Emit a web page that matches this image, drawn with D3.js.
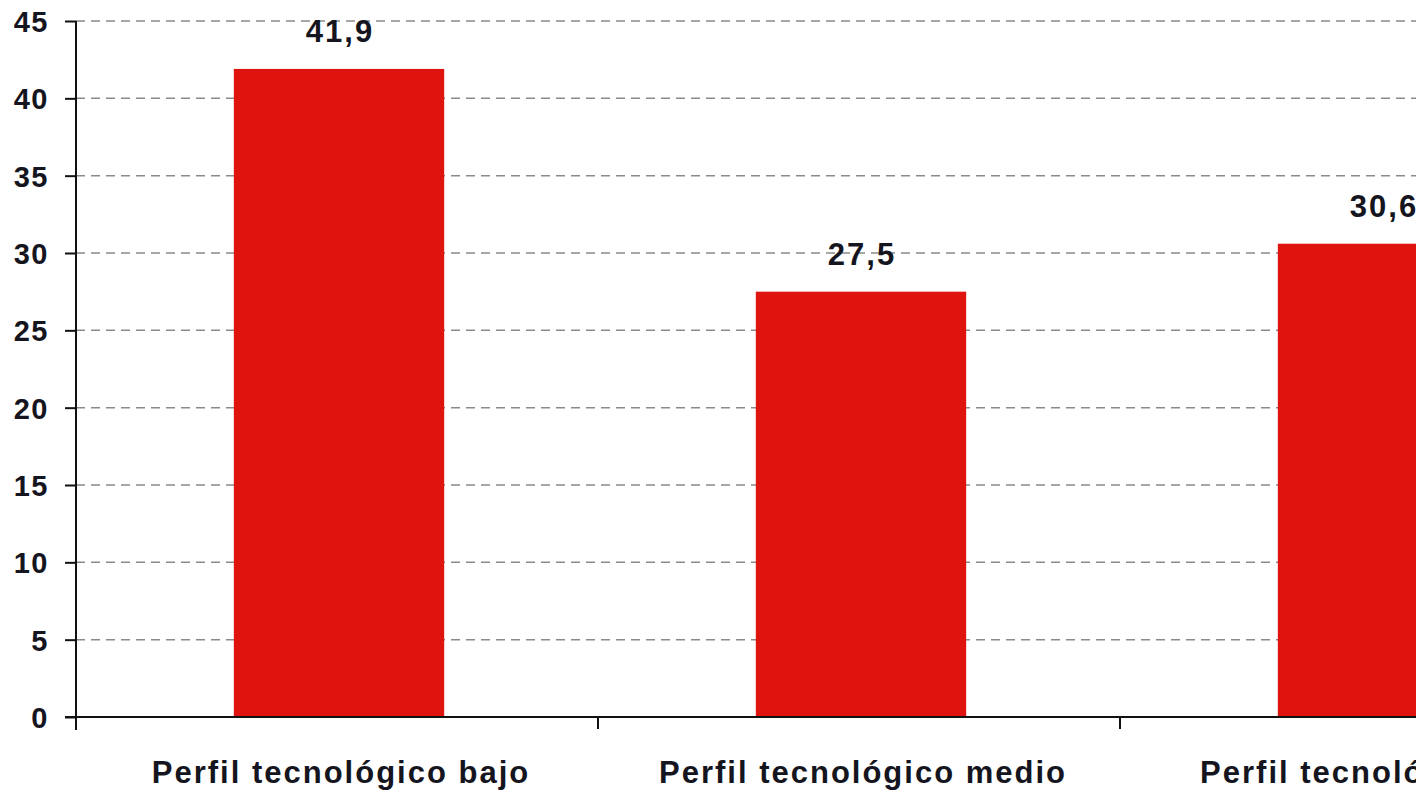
<!DOCTYPE html>
<html>
<head>
<meta charset="utf-8">
<script src="https://cdn.jsdelivr.net/npm/d3@7"></script>
<style>
  body { margin: 0; background: #fff; }
  svg { display: block; overflow: hidden; }
  text { font-family: "Liberation Sans", Arial, sans-serif; font-weight: bold; fill: #151520; }
</style>
</head>
<body>
<div id="chart"></div>
<script>
// chart values
var categories = ["Perfil tecnológico bajo", "Perfil tecnológico medio", "Perfil tecnológico alto"];
var values = [41.9, 27.5, 30.6];
var yTicks = [0, 5, 10, 15, 20, 25, 30, 35, 40, 45];

var W = 1416, H = 798;
var margin = {left: 76, top: 21, bottom: 81};
var step = 522;

var svg = d3.select("#chart").append("svg")
    .attr("width", W)
    .attr("height", H);

var x = d3.scaleBand()
    .domain(categories)
    .range([margin.left, margin.left + step * categories.length]);

var y = d3.scaleLinear()
    .domain([0, 45])
    .range([H - margin.bottom, margin.top]);

// dashed grid lines
svg.append("g")
    .selectAll("line")
    .data(yTicks.filter(function(d) { return d > 0; }))
    .enter()
    .append("line")
    .attr("x1", margin.left)
    .attr("x2", W + 10)
    .attr("y1", function(d) { return y(d); })
    .attr("y2", function(d) { return y(d); })
    .attr("stroke", "#8a8a8a")
    .attr("stroke-width", 1.5)
    .attr("stroke-dasharray", "9,6");

// bars
var barW = x.bandwidth() * 0.403;
svg.append("g")
    .selectAll("rect")
    .data(values)
    .enter()
    .append("rect")
    .attr("x", function(d, i) { return x(categories[i]) + (x.bandwidth() - barW) / 2 + 2; })
    .attr("width", barW)
    .attr("y", function(d) { return y(d); })
    .attr("height", function(d) { return y(0) - y(d); })
    .attr("fill", "#e0140f");

// value labels
svg.append("g")
    .selectAll("text")
    .data(values)
    .enter()
    .append("text")
    .attr("x", function(d, i) { return x(categories[i]) + x.bandwidth() / 2 + 3; })
    .attr("y", function(d) { return y(d) - 27; })
    .attr("text-anchor", "middle")
    .style("font-size", "31px")
    .style("letter-spacing", "2px")
    .text(function(d) { return String(d).replace(".", ","); });

// y axis
var yAxis = d3.axisLeft(y)
    .tickValues(yTicks)
    .tickSize(11)
    .tickSizeOuter(0)
    .tickPadding(16);

var gy = svg.append("g")
    .attr("transform", "translate(" + margin.left + ",0)")
    .call(yAxis);
gy.select(".domain").attr("stroke", "#111").attr("stroke-width", 2)
    .attr("d", "M0," + margin.top + "V" + (y(0) + 13));
gy.selectAll(".tick line").attr("stroke", "#111").attr("stroke-width", 2);
gy.selectAll(".tick text")
    .style("font-size", "29px")
    .style("letter-spacing", "1.5px")
    .attr("fill", "#151520")
    .attr("dy", "0.36em");

// x axis: ticks at band edges
var gx = svg.append("g")
    .attr("transform", "translate(0," + y(0) + ")");
gx.append("line")
    .attr("x1", margin.left - 11)
    .attr("x2", W + 10)
    .attr("stroke", "#111")
    .attr("stroke-width", 2);
gx.selectAll("line.edge")
    .data(categories.slice(1))
    .enter()
    .append("line")
    .classed("edge", true)
    .attr("x1", function(d) { return x(d); })
    .attr("x2", function(d) { return x(d); })
    .attr("y1", 0)
    .attr("y2", 12)
    .attr("stroke", "#111")
    .attr("stroke-width", 2);
gx.selectAll("text")
    .data(categories)
    .enter()
    .append("text")
    .attr("x", function(d) { return x(d) + x.bandwidth() / 2 + 4; })
    .attr("y", 66)
    .attr("text-anchor", "middle")
    .style("font-size", "31px")
    .style("letter-spacing", "2px")
    .text(function(d) { return d; });
</script>
</body>
</html>
